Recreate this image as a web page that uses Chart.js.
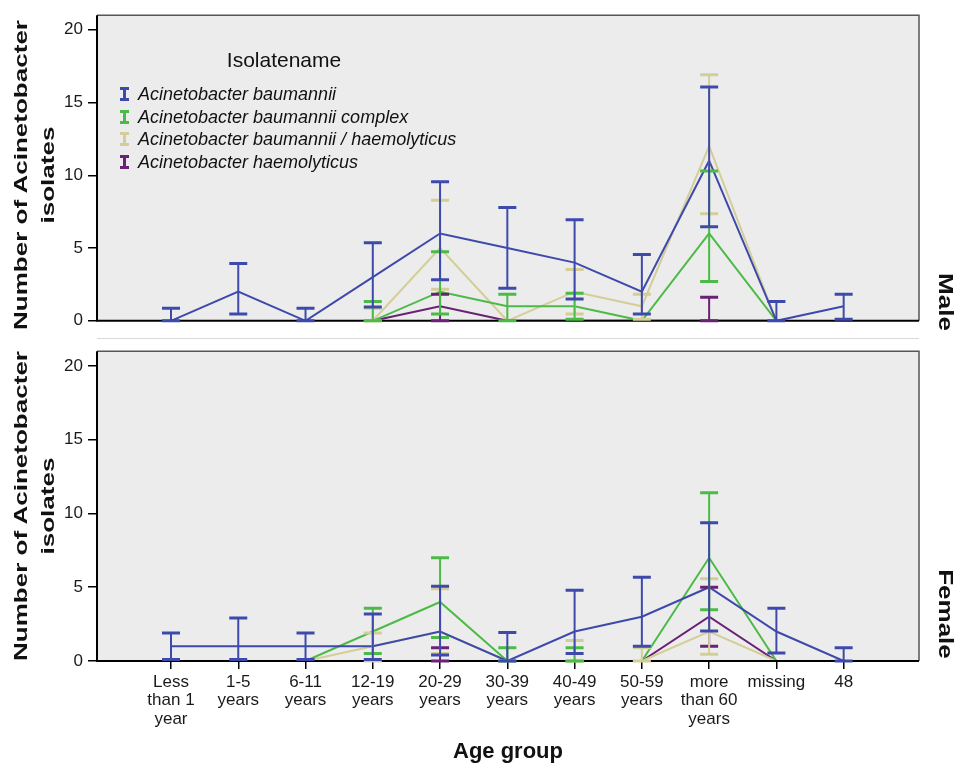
<!DOCTYPE html>
<html lang="en">
<head>
<meta charset="UTF-8">
<title>Acinetobacter isolates by age group</title>
<script src="https://cdn.jsdelivr.net/npm/chart.js"></script>
<style>
    body {
        margin: 0;
        background: #ffffff;
        font-family: "Liberation Sans", Arial, sans-serif;
        color: #111;
    }

    #wrap {
        position: relative;
        width: 956px;
        height: 766px;
        overflow: hidden;
    }

    canvas {
        position: absolute;
        left: 0;
    }

    #maleChart { top: 0; }
    #femaleChart { top: 336px; }

    .ytitle {
        position: absolute;
        font-weight: bold;
        font-size: 19px;
        line-height: 27px;
        text-align: center;
        white-space: nowrap;
        transform: translate(-50%, -50%) rotate(-90deg) scaleX(1.37);
    }

    .panel {
        position: absolute;
        font-weight: bold;
        font-size: 20px;
        line-height: 20px;
        white-space: nowrap;
        transform: translate(-50%, -50%) rotate(90deg) scaleX(1.3);
    }

    .lgtitle {
        position: absolute;
        left: 284px;
        top: 48px;
        font-size: 21px;
        line-height: 24px;
        transform: translateX(-50%);
        white-space: nowrap;
    }

    .lgitem {
        position: absolute;
        left: 138px;
        font-size: 18px;
        line-height: 20px;
        font-style: italic;
        white-space: nowrap;
    }

    .ibeam {
        position: absolute;
        left: 120px;
        width: 9px;
        height: 14px;
        box-sizing: border-box;
        border-top: 3px solid;
        border-bottom: 3px solid;
    }

    .sep {
        position: absolute;
        left: 97px;
        top: 338px;
        width: 822px;
        height: 1px;
        background: #d9d9d9;
    }
</style>
</head>
<body>
<div id="wrap">
    <canvas id="maleChart" width="956" height="336"></canvas>
    <canvas id="femaleChart" width="956" height="430"></canvas>
    <div class="sep"></div>

    <div class="ytitle" style="left:33.5px; top:175px;">Number of Acinetobacter<br>isolates</div>
    <div class="ytitle" style="left:33.5px; top:506px;">Number of Acinetobacter<br>isolates</div>
    <div class="panel" style="left:946px; top:302px;">Male</div>
    <div class="panel" style="left:946px; top:614px;">Female</div>

    <div id="legend"></div>
</div>

<script>
    // categories on the x axis (multi-line labels)
    const categories = [
        ['Less', 'than 1', 'year'], ['1-5', 'years'], ['6-11', 'years'], ['12-19', 'years'],
        ['20-29', 'years'], ['30-39', 'years'], ['40-49', 'years'], ['50-59', 'years'],
        ['more', 'than 60', 'years'], ['missing'], ['48']
    ];
    const yTicks = [0, 5, 10, 15, 20];

    const seriesNames = [
        'Acinetobacter baumannii',
        'Acinetobacter baumannii complex',
        'Acinetobacter baumannii / haemolyticus',
        'Acinetobacter haemolyticus'
    ];
    const seriesColors = ['#3e4aab', '#4cba46', '#d3ce97', '#6a2275'];

    // Male: counts and error bar limits
    const maleBaumannii      = [0, 2, 0, 3, 6, 5, 4, 2, 11, 0, 1];
    const maleBaumanniiLow   = [0, 0.46, 0, 0.95, 2.82, 2.23, 1.5, 0.46, 6.47, 0, 0.1];
    const maleBaumanniiHigh  = [0.86, 3.93, 0.86, 5.36, 9.56, 7.79, 6.95, 4.55, 16.07, 1.32, 1.83];

    const maleComplex        = [null, null, null, 0, 2, 1, 1, 0, 6, 0, null];
    const maleComplexLow     = [null, null, null, 0, 0.46, 0, 0.1, null, 2.7, null, null];
    const maleComplexHigh    = [null, null, null, 1.32, 4.74, 1.83, 1.9, null, 10.3, null, null];

    const maleBauHaem        = [null, null, null, 0, 5, 0, 2, 1, 12, 0, null];
    const maleBauHaemLow     = [null, null, null, 0, 2.16, null, 0.46, 0.1, 7.35, null, null];
    const maleBauHaemHigh    = [null, null, null, 0.86, 8.28, null, 3.53, 1.83, 16.9, null, null];

    const maleHaemolyticus     = [null, null, null, 0, 1, 0, 0, 0, 0, 0, null];
    const maleHaemolyticusLow  = [null, null, null, null, 0, null, null, null, 0, null, null];
    const maleHaemolyticusHigh = [null, null, null, null, 1.83, null, null, null, 1.61, null, null];

    // Female: counts and error bar limits
    const femaleBaumannii      = [1, 1, 1, 1, 2, 0, 2, 3, 5, 2, 0];
    const femaleBaumanniiLow   = [0.1, 0.1, 0.1, 0.1, 0.4, 0, 0.5, 1.0, 2.04, 0.55, 0];
    const femaleBaumanniiHigh  = [1.89, 2.92, 1.89, 3.19, 5.06, 1.93, 4.8, 5.68, 9.37, 3.58, 0.9];

    const femaleComplex        = [null, null, 0, 2, 4, 0, 0, 0, 7, 0, null];
    const femaleComplexLow     = [null, null, null, 0.5, 1.6, 0, 0, null, 3.48, null, null];
    const femaleComplexHigh    = [null, null, null, 3.58, 7.0, 0.9, 0.9, null, 11.4, null, null];

    const femaleBauHaem        = [null, null, 0, 1, 2, 0, 0, 0, 2, 0, null];
    const femaleBauHaemLow     = [null, null, null, 0, 0.5, null, 0, 0, 0.46, null, null];
    const femaleBauHaemHigh    = [null, null, null, 1.9, 4.9, null, 1.39, 0.9, 5.57, null, null];

    const femaleHaemolyticus     = [null, null, null, null, 0, 0, 0, 0, 3, 0, null];
    const femaleHaemolyticusLow  = [null, null, null, null, 0, null, null, null, 1.0, null, null];
    const femaleHaemolyticusHigh = [null, null, null, null, 0.9, null, null, null, 5.0, null, null];

    Chart.defaults.font.family = '"Liberation Sans", Arial, sans-serif';
    Chart.defaults.color = '#1a1a1a';

    // grey plot background and frame (frame goes over the lines, under the error bars)
    const panelBg = {
        id: 'panelBg',
        beforeDraw(chart) {
            const { ctx, chartArea: a } = chart;
            ctx.save();
            ctx.fillStyle = '#ececec';
            ctx.fillRect(a.left, a.top, a.right - a.left, a.bottom - a.top);
            ctx.restore();
        },
        afterDatasetsDraw(chart) {
            const { ctx, chartArea: a } = chart;
            ctx.save();
            ctx.strokeStyle = '#555';
            ctx.lineWidth = 1.5;
            ctx.beginPath();
            ctx.moveTo(a.left, a.top);
            ctx.lineTo(a.right, a.top);
            ctx.lineTo(a.right, a.bottom);
            ctx.stroke();
            ctx.strokeStyle = '#000';
            ctx.lineWidth = 2;
            ctx.beginPath();
            ctx.moveTo(a.left, a.top);
            ctx.lineTo(a.left, a.bottom);
            ctx.lineTo(a.right, a.bottom);
            ctx.stroke();
            ctx.restore();
        }
    };

    // I-beam error bars read from dataset.errLow / dataset.errHigh
    const errorBars = {
        id: 'errorBars',
        afterDatasetsDraw(chart) {
            const ctx = chart.ctx;
            const yScale = chart.scales.y;
            for (let d = chart.data.datasets.length - 1; d >= 0; d--) {
                const ds = chart.data.datasets[d];
                const meta = chart.getDatasetMeta(d);
                ctx.save();
                ctx.strokeStyle = ds.borderColor;
                meta.data.forEach((pt, i) => {
                    const hi = ds.errHigh[i];
                    const lo = ds.errLow[i];
                    const v = ds.data[i].y;
                    if (v == null || (hi == null && lo == null)) return;
                    const x = pt.x;
                    const yHi = yScale.getPixelForValue(hi != null ? hi : v);
                    const yLo = yScale.getPixelForValue(lo != null ? lo : v);
                    ctx.lineWidth = 2;
                    ctx.beginPath();
                    ctx.moveTo(x, yHi);
                    ctx.lineTo(x, yLo);
                    ctx.stroke();
                    ctx.lineWidth = 3;
                    ctx.beginPath();
                    if (hi != null) { ctx.moveTo(x - 9, yHi); ctx.lineTo(x + 9, yHi); }
                    if (lo != null) { ctx.moveTo(x - 9, yLo); ctx.lineTo(x + 9, yLo); }
                    ctx.stroke();
                });
                ctx.restore();
            }
        }
    };

    function makeDataset(i, values, low, high) {
        return {
            label: seriesNames[i],
            data: values.map((v, k) => ({ x: k, y: v })),
            errLow: low,
            errHigh: high,
            borderColor: seriesColors[i],
            backgroundColor: seriesColors[i],
            borderWidth: 2,
            pointRadius: 0,
            tension: 0,
            spanGaps: false
        };
    }

    function makeChart(id, datasets, showX) {
        const ctx = document.getElementById(id).getContext('2d');
        return new Chart(ctx, {
            type: 'line',
            data: { datasets: datasets },
            options: {
                responsive: false,
                animation: false,
                devicePixelRatio: 1,
                layout: { padding: { top: showX ? 6 : 13, right: 37, bottom: showX ? 0 : 5, left: 0 } },
                plugins: {
                    legend: { display: false },
                    tooltip: { enabled: false }
                },
                scales: {
                    x: {
                        type: 'linear',
                        display: showX,
                        min: -1.1,
                        max: 11.12,
                        afterBuildTicks: s => { s.ticks = categories.map((c, k) => ({ value: k })); },
                        afterFit: s => { if (showX) s.height = 105; },
                        ticks: {
                            autoSkip: false,
                            maxRotation: 0,
                            padding: 4,
                            font: { size: 17, lineHeight: 1.08 },
                            color: '#1a1a1a',
                            callback: v => categories[v]
                        },
                        grid: { drawOnChartArea: false, drawTicks: true, tickLength: 8, color: '#000', lineWidth: 1.5 },
                        border: { display: false },
                        title: {
                            display: true,
                            text: 'Age group',
                            font: { size: 22, weight: 'bold' },
                            color: '#111',
                            padding: { top: 4, bottom: 1 }
                        }
                    },
                    y: {
                        min: 0,
                        max: 21,
                        afterBuildTicks: s => { s.ticks = yTicks.map(v => ({ value: v })); },
                        afterFit: s => { s.width = 97; },
                        ticks: { font: { size: 17 }, padding: 5, color: '#1a1a1a' },
                        grid: { drawOnChartArea: false, drawTicks: true, tickLength: 9, color: '#000', lineWidth: 1.5 },
                        border: { display: false }
                    }
                }
            },
            plugins: [panelBg, errorBars]
        });
    }

    makeChart('maleChart', [
        makeDataset(0, maleBaumannii, maleBaumanniiLow, maleBaumanniiHigh),
        makeDataset(1, maleComplex, maleComplexLow, maleComplexHigh),
        makeDataset(2, maleBauHaem, maleBauHaemLow, maleBauHaemHigh),
        makeDataset(3, maleHaemolyticus, maleHaemolyticusLow, maleHaemolyticusHigh)
    ], false);

    makeChart('femaleChart', [
        makeDataset(0, femaleBaumannii, femaleBaumanniiLow, femaleBaumanniiHigh),
        makeDataset(1, femaleComplex, femaleComplexLow, femaleComplexHigh),
        makeDataset(2, femaleBauHaem, femaleBauHaemLow, femaleBauHaemHigh),
        makeDataset(3, femaleHaemolyticus, femaleHaemolyticusLow, femaleHaemolyticusHigh)
    ], true);

    // legend inside the male panel
    const legend = document.getElementById('legend');
    let html = '<div class="lgtitle">Isolatename</div>';
    const baselines = [100, 123, 145, 168];
    seriesNames.forEach((name, i) => {
        const top = baselines[i] - 16;
        html += '<span class="ibeam" style="top:' + (baselines[i] - 13) + 'px; color:' + seriesColors[i] +
            '; background: linear-gradient(' + seriesColors[i] + ',' + seriesColors[i] + ') center / 3px 100% no-repeat;"></span>';
        html += '<div class="lgitem" style="top:' + top + 'px;">' + name + '</div>';
    });
    legend.innerHTML = html;
</script>
</body>
</html>
